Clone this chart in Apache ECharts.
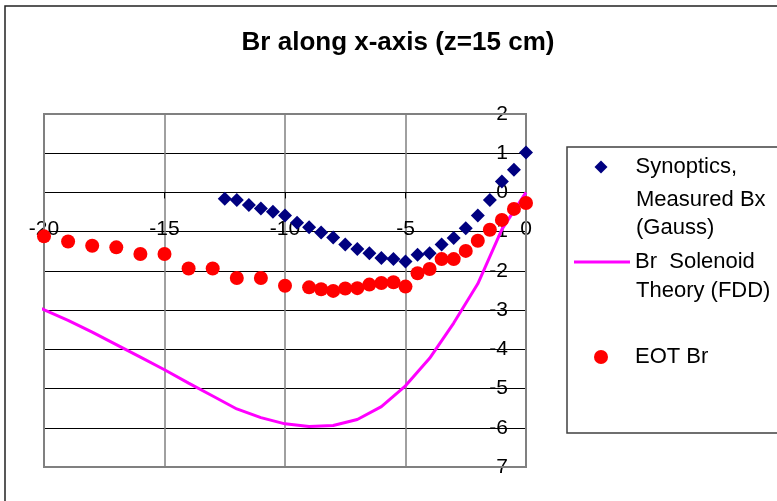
<!DOCTYPE html>
<html><head><meta charset="utf-8">
<script src="https://cdn.jsdelivr.net/npm/echarts@6/dist/echarts.min.js"></script>
<style>html,body{margin:0;padding:0;background:#fff;overflow:hidden}#c{width:777px;height:501px}</style>
</head><body><div id="c"></div>
<script>
const titleText = 'Br along x-axis (z=15 cm)';
const seriesNames = ['Synoptics,\nMeasured Bx\n(Gauss)', 'Br  Solenoid\nTheory (FDD)', 'EOT Br'];

// Synoptics, Measured Bx (Gauss)
const synX = [-12.5,-12,-11.5,-11,-10.5,-10,-9.5,-9,-8.5,-8,-7.5,-7,-6.5,-6,-5.5,-5,-4.5,-4,-3.5,-3,-2.5,-2,-1.5,-1,-0.5,0];
const synY = [-0.16,-0.19,-0.32,-0.41,-0.49,-0.59,-0.77,-0.89,-1.02,-1.15,-1.33,-1.44,-1.55,-1.67,-1.70,-1.76,-1.59,-1.55,-1.33,-1.16,-0.91,-0.59,-0.19,0.28,0.58,1.02];

// Br Solenoid Theory (FDD)
const fddX = [-20.3,-19,-18,-17,-16,-15,-14,-13,-12,-11,-10,-9,-8,-7,-6,-5,-4,-3,-2,-1,0];
const fddY = [-2.91,-3.26,-3.56,-3.88,-4.20,-4.52,-4.86,-5.19,-5.52,-5.74,-5.90,-5.97,-5.94,-5.79,-5.46,-4.93,-4.23,-3.33,-2.33,-0.94,0.0];

// EOT Br
const eotX = [-20,-19,-18,-17,-16,-15,-14,-13,-12,-11,-10,-9,-8.5,-8,-7.5,-7,-6.5,-6,-5.5,-5,-4.5,-4,-3.5,-3,-2.5,-2,-1.5,-1,-0.5,0];
const eotY = [-1.12,-1.25,-1.36,-1.40,-1.57,-1.57,-1.94,-1.94,-2.18,-2.18,-2.38,-2.42,-2.47,-2.51,-2.45,-2.44,-2.35,-2.31,-2.29,-2.40,-2.06,-1.95,-1.70,-1.70,-1.49,-1.23,-0.95,-0.70,-0.42,-0.27];

// Axis ticks
const xMin = -20, xMax = 0, xStep = 5;
const yMin = -7, yMax = 2, yStep = 1;

const FONT = '"Liberation Sans", Arial, sans-serif';
const zip = (a, b) => a.map((v, i) => [v, b[i]]);
const firstLine = s => '{sp|}' + s.split('\n')[0];

const chart = echarts.init(document.getElementById('c'), null, {renderer: 'canvas'});

const legendText = {fontFamily: FONT, fontSize: 22, color: '#000', rich: {sp: {width: 23}}};
const legendText2 = {fontFamily: FONT, fontSize: 22, color: '#000', rich: {sp: {width: 0}}};

const option = {
  animation: false,
  backgroundColor: '#fff',
  textStyle: {fontFamily: FONT},
  title: {
    text: titleText,
    left: 398, top: 30, textAlign: 'center',
    padding: 0,
    textStyle: {fontFamily: FONT, fontSize: 26, fontWeight: 'bold', color: '#000'}
  },
  grid: {left: 44, right: 251, top: 114, bottom: 34, containLabel: false, outerBoundsMode: 'none'},
  xAxis: {
    type: 'value', min: xMin, max: xMax, interval: xStep, position: 'bottom',
    axisLine: {show: true, onZero: false, lineStyle: {color: '#000', width: 1}},
    axisTick: {show: true, length: 6, lineStyle: {color: '#000', width: 1}},
    axisLabel: {fontFamily: FONT, fontSize: 21, color: '#000', margin: 26, showMinLabel: true, showMaxLabel: true},
    splitLine: {show: true, lineStyle: {color: '#808080', width: 1.5}}
  },
  yAxis: {
    type: 'value', min: yMin, max: yMax, interval: yStep, position: 'left',
    axisLine: {show: true, onZero: false, lineStyle: {color: '#000', width: 2}},
    axisTick: {show: true, length: 9, lineStyle: {color: '#000', width: 1}},
    axisLabel: {fontFamily: FONT, fontSize: 21, color: '#000', margin: 18, padding: [5, 0, 0, 0], showMinLabel: true, showMaxLabel: true},
    splitLine: {show: true, lineStyle: {color: '#000', width: 1}}
  },
  legend: [
    {data: [{name: seriesNames[0], icon: 'diamond'}], left: 594.5, top: 156, padding: 0, itemWidth: 13, itemHeight: 13,
     formatter: firstLine, textStyle: legendText},
    {data: [{name: seriesNames[1], icon: 'rect'}], left: 574, top: 251, padding: 0, itemWidth: 56, itemHeight: 3,
     formatter: firstLine, textStyle: legendText2},
    {data: [{name: seriesNames[2], icon: 'circle'}], left: 594, top: 346, padding: 0, itemWidth: 14, itemHeight: 14,
     formatter: firstLine, textStyle: {fontFamily: FONT, fontSize: 22, color: '#000', rich: {sp: {width: 22}}}}
  ],
  graphic: [
    {id: 'frame', type: 'rect', z: 0, silent: true, shape: {x: 5, y: 6, width: 800, height: 600},
     style: {fill: null, stroke: '#222', lineWidth: 1.5}},
    {id: 'legendBox', type: 'rect', z: 0, silent: true, shape: {x: 567, y: 147, width: 240, height: 286},
     style: {fill: null, stroke: '#404040', lineWidth: 1.5}}
  ],
  series: [
    {name: seriesNames[0], type: 'scatter', symbol: 'diamond', symbolSize: 14,
     itemStyle: {color: '#000080', opacity: 1}, data: zip(synX, synY), z: 3},
    {name: seriesNames[1], type: 'line', showSymbol: false, symbol: 'none', clip: false,
     lineStyle: {color: '#FF00FF', width: 3}, itemStyle: {color: '#FF00FF', opacity: 1}, data: zip(fddX, fddY), z: 3},
    {name: seriesNames[2], type: 'scatter', symbol: 'circle', symbolSize: 14,
     itemStyle: {color: '#FF0000', opacity: 1}, data: zip(eotX, eotY), z: 4}
  ]
};
chart.setOption(option);

// Move axes so they cross at the origin (x axis at y=0, y axis at x=0); iterate for stable layout
let pTL, pBR, pO;
for (let it = 0; it < 3; it++) {
  pTL = chart.convertToPixel({gridIndex: 0}, [xMin, yMax]);
  pBR = chart.convertToPixel({gridIndex: 0}, [xMax, yMin]);
  pO = chart.convertToPixel({gridIndex: 0}, [0, 0]);
  chart.setOption({
    xAxis: {offset: -(pBR[1] - pO[1])},
    yAxis: {offset: -(pO[0] - pTL[0])}
  });
}
pTL = chart.convertToPixel({gridIndex: 0}, [xMin, yMax]);
pBR = chart.convertToPixel({gridIndex: 0}, [xMax, yMin]);

// continuation lines of the multi-line legend names
const extraLines = [];
const legendTextX = 636;
const lineSets = [
  {name: seriesNames[0], y0: 167, gaps: [33, 28]},
  {name: seriesNames[1], y0: 262, gaps: [29]}
];
lineSets.forEach((ls, k) => {
  const lines = ls.name.split('\n');
  let y = ls.y0;
  for (let i = 1; i < lines.length; i++) {
    y += ls.gaps[i - 1];
    extraLines.push({id: 'lg' + k + '_' + i, type: 'text', silent: true, x: legendTextX, y: y,
      style: {text: lines[i], fontFamily: FONT, fontSize: 22, fill: '#000', textAlign: 'left', textVerticalAlign: 'middle'}});
  }
});

chart.setOption({
  graphic: [
    {id: 'plotBorder', type: 'rect', z: 1, silent: true,
     shape: {x: pTL[0], y: pTL[1], width: pBR[0] - pTL[0], height: pBR[1] - pTL[1]},
     style: {fill: null, stroke: '#808080', lineWidth: 2}}
  ].concat(extraLines)
});
</script>
</body></html>
